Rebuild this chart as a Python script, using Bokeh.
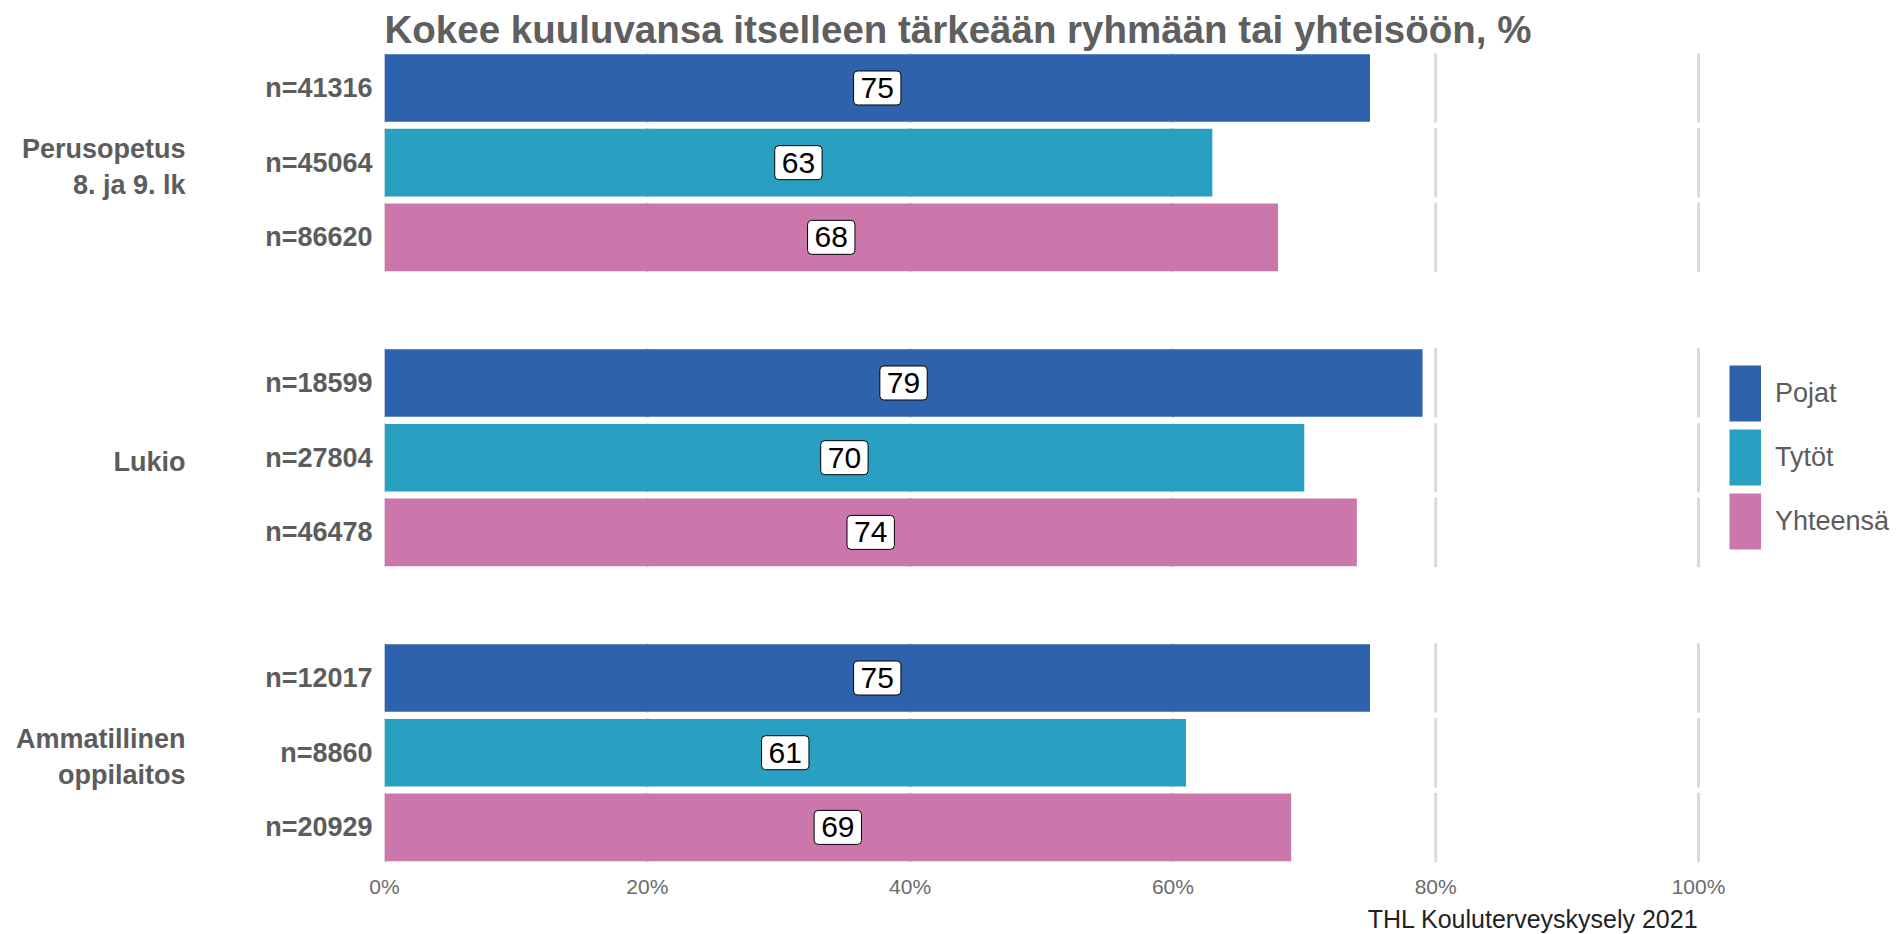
from bokeh.plotting import figure
from bokeh.models import (Range1d, FixedTicker, LinearAxis, Legend, LegendItem,
                          Title, ColumnDataSource)
from bokeh.core.properties import value
from bokeh.embed import file_html
from bokeh.resources import INLINE

# ---------------- data ----------------
groups = ["Perusopetus\n8. ja 9. lk", "Lukio", "Ammatillinen\noppilaitos"]
genders = ["Pojat", "Tytöt", "Yhteensä"]
colors = ["#2f62ad", "#29a0c1", "#cc77ac"]

n_perusopetus = ["n=41316", "n=45064", "n=86620"]
n_lukio = ["n=18599", "n=27804", "n=46478"]
n_ammatillinen = ["n=12017", "n=8860", "n=20929"]

pct_perusopetus = [75, 63, 68]
pct_lukio = [79, 70, 74]
pct_ammatillinen = [75, 61, 69]

x_ticks = [0, 20, 40, 60, 80, 100]
x_tick_labels = ["0%", "20%", "40%", "60%", "80%", "100%"]

title_text = "Kokee kuuluvansa itselleen tärkeään ryhmään tai yhteisöön, %"
caption_text = "THL Kouluterveyskysely 2021"

# ---------------- layout constants ----------------
W, H = 1898, 934
LEFT, TOP, BOTTOM_B, RIGHT_B = 384, 52, 72, 8
PANEL_RIGHT = 1698          # pixel where 100 % sits
GROUP_STEP = 3.95
BAR_H = 0.905
GRID_H = 0.93
GROUP_LABEL_SHIFT = 0.06
FONT = "Liberation Sans"
GREY = "#5c5c5c"

n_by_group = [n_perusopetus, n_lukio, n_ammatillinen]
pct_by_group = [pct_perusopetus, pct_lukio, pct_ammatillinen]

def row_y(g, i):
    return round(-(g * GROUP_STEP) - i, 4)

all_rows = [row_y(g, i) for g in range(3) for i in range(3)]
bottom = min(all_rows)

frame_right = W - RIGHT_B
x_end = 100 * (frame_right - LEFT) / (PANEL_RIGHT - LEFT)

p = figure(width=W, height=H, output_backend="svg", toolbar_location=None,
           x_range=Range1d(0, x_end), y_range=Range1d(bottom - 0.47, 0.475),
           min_border_left=LEFT, min_border_right=RIGHT_B, min_border_top=TOP,
           min_border_bottom=BOTTOM_B, title=title_text)
p.outline_line_color = None
p.xgrid.visible = False
p.ygrid.visible = False
p.background_fill_color = "white"
p.border_fill_color = "white"

p.title.text_font = FONT
p.title.text_font_size = "38.5px"
p.title.text_font_style = "bold"
p.title.text_color = "#5f5f5f"
p.title.align = "left"
p.title.offset = 0
p.title.standoff = 3

# grid segments per row
gx, gy0, gy1 = [], [], []
for y in all_rows:
    for t in x_ticks:
        gx.append(t)
        gy0.append(y - GRID_H / 2)
        gy1.append(y + GRID_H / 2)
p.segment(x0=gx, y0=gy0, x1=gx, y1=gy1, line_color="#dadada", line_width=3)

# bars (+ hidden thick-line renderers that give full-size legend swatches)
legend_items = []
for i, gname in enumerate(genders):
    ys = [row_y(g, i) for g in range(3)]
    vals = [pct_by_group[g][i] for g in range(3)]
    src = ColumnDataSource(dict(y=ys, right=vals))
    r = p.hbar(y="y", left=0, right="right", height=BAR_H, source=src,
               fill_color=colors[i], line_color=None)
    sw = p.segment(x0=0, y0="y", x1="right", y1="y", source=src,
                   line_color=colors[i], line_width=56, line_cap="butt",
                   visible=False)
    legend_items.append(LegendItem(label=gname, renderers=[sw, r]))

# value labels
lx, ly, lt = [], [], []
for g in range(3):
    for i in range(3):
        v = pct_by_group[g][i]
        lx.append(v / 2)
        ly.append(row_y(g, i))
        lt.append(str(v))
lsrc = ColumnDataSource(dict(x=lx, y=ly, t=lt))
p.text(x="x", y="y", text="t", source=lsrc, text_align="center",
       text_baseline="middle", text_font=value(FONT), text_font_size="30px",
       text_color="black", background_fill_color="white",
       border_line_color="black", border_line_width=1,
       padding=7, border_radius=4)

# x axis
xa = p.xaxis[0]
xa.ticker = FixedTicker(ticks=x_ticks)
xa.major_label_overrides = {t: l for t, l in zip(x_ticks, x_tick_labels)}
xa.axis_line_color = None
xa.major_tick_line_color = None
xa.major_tick_out = 0
xa.major_tick_in = 0
xa.minor_tick_line_color = None
xa.minor_tick_out = 0
xa.major_label_standoff = 12
xa.major_label_text_font = FONT
xa.major_label_text_font_size = "21px"
xa.major_label_text_color = "#6b6b6b"

# y axis (n labels)
ya = p.yaxis[0]
ya.ticker = FixedTicker(ticks=all_rows)
ya.major_label_overrides = {row_y(g, i): n_by_group[g][i]
                            for g in range(3) for i in range(3)}
ya.axis_line_color = None
ya.major_tick_line_color = None
ya.major_tick_out = 0
ya.major_tick_in = 0
ya.minor_tick_line_color = None
ya.minor_tick_out = 0
ya.major_label_standoff = 12
ya.major_label_text_font = FONT
ya.major_label_text_font_size = "27px"
ya.major_label_text_font_style = "bold"
ya.major_label_text_color = GREY

# group axis
group_centers = [round(row_y(g, 1) - GROUP_LABEL_SHIFT, 4) for g in range(3)]
ga = LinearAxis(ticker=FixedTicker(ticks=group_centers),
                major_label_overrides={c: n for c, n in zip(group_centers, groups)})
ga.axis_line_color = None
ga.major_tick_line_color = None
ga.major_tick_out = 0
ga.major_tick_in = 0
ga.minor_tick_line_color = None
ga.minor_tick_out = 0
ga.major_label_standoff = 77
ga.major_label_text_font = FONT
ga.major_label_text_font_size = "27px"
ga.major_label_text_font_style = "bold"
ga.major_label_text_color = GREY
p.add_layout(ga, "left")

# caption, right edge aligned with the 100 % position
cap = Title(text=caption_text, align="right", text_font=FONT,
            text_font_size="25px", text_font_style="normal",
            text_color="#222222", standoff=4, offset=frame_right - PANEL_RIGHT)
p.add_layout(cap, "below")

# legend inside the frame, right of the 100 % line
legend = Legend(items=legend_items,
                location=(1345, 309), orientation="vertical",
                glyph_width=32, glyph_height=64, spacing=0, padding=10, margin=0,
                label_standoff=14, label_text_font=FONT, label_text_font_size="27px",
                label_text_color=GREY, border_line_color=None,
                background_fill_alpha=0)
p.add_layout(legend)

open("out.html", "w").write(file_html(p, INLINE))
